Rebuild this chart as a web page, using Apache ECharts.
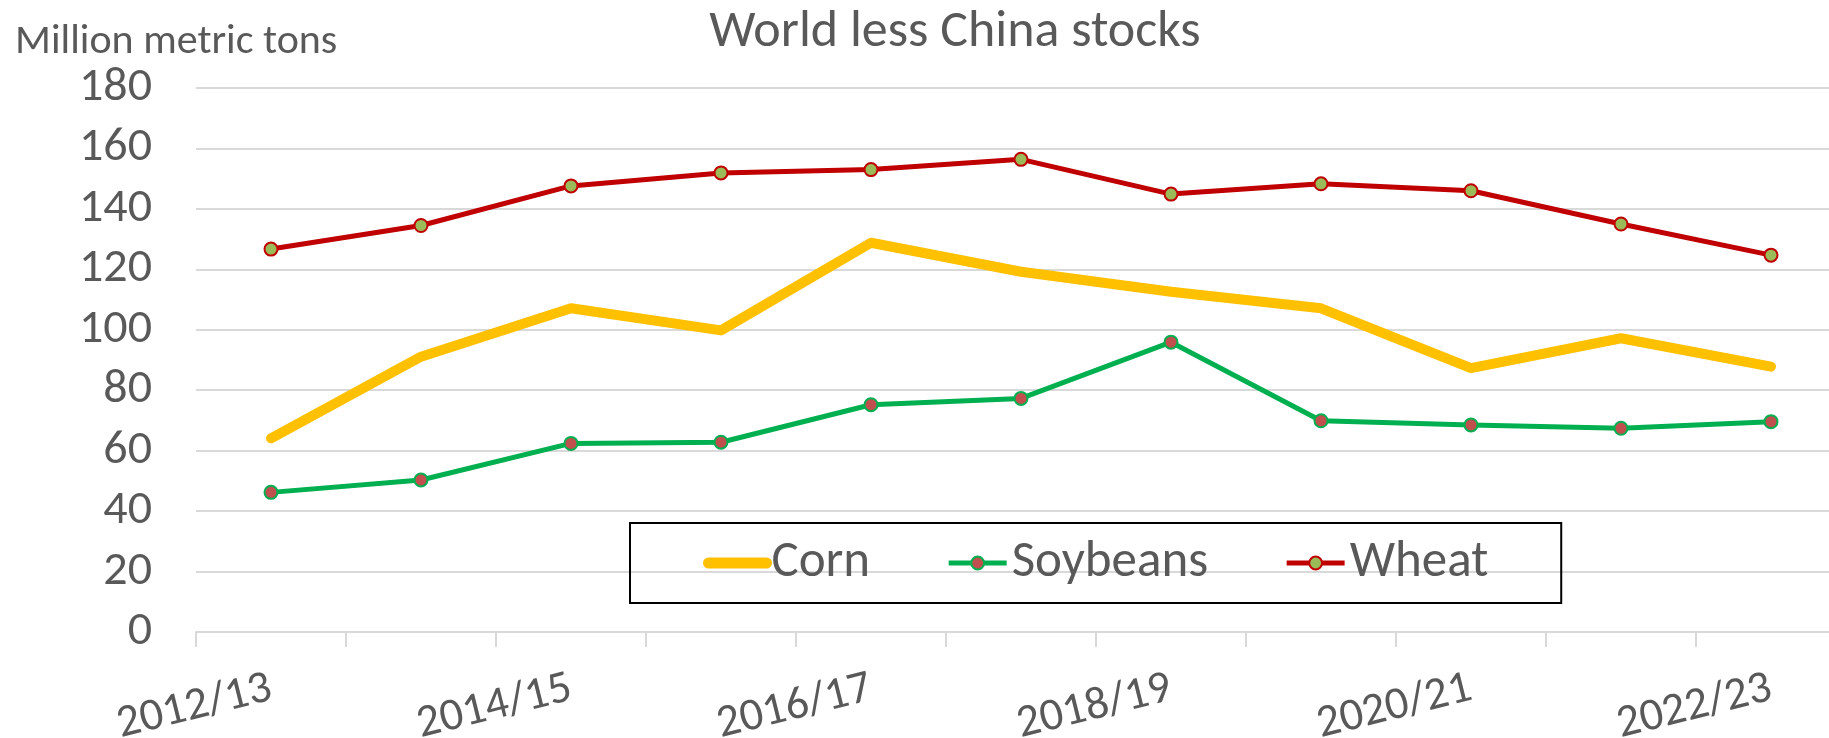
<!DOCTYPE html>
<html>
<head>
<meta charset="utf-8">
<script src="https://cdn.jsdelivr.net/npm/echarts@6/dist/echarts.min.js"></script>
<style>
  html, body { margin: 0; padding: 0; background: #fff; }
  #chart { width: 1829px; height: 738px; }
</style>
</head>
<body>
<div id="chart"></div>
<script>
// Marketing years on the category axis
const years = ['2012/13', '2013/14', '2014/15', '2015/16', '2016/17', '2017/18',
               '2018/19', '2019/20', '2020/21', '2021/22', '2022/23'];

// Ending stocks, world excluding China (million metric tons)
const corn     = [64.1, 91.1, 107.1, 99.8, 128.8, 119.2, 112.6, 107.1, 87.3, 97.2, 87.8];
const soybeans = [46.2, 50.3, 62.4, 62.8, 75.2, 77.3, 95.9, 69.9, 68.5, 67.4, 69.6];
const wheat    = [126.7, 134.5, 147.6, 151.9, 153.0, 156.4, 144.9, 148.3, 146.0, 135.0, 124.7];

const yTicks = { min: 0, max: 180, interval: 20 };

const FONT = 'Carlito, Lato, sans-serif';
const TEXT = '#595959';

const chart = echarts.init(document.getElementById('chart'), null, { renderer: 'canvas' });

chart.setOption({
  backgroundColor: '#ffffff',
  animation: false,
  textStyle: { fontFamily: FONT, color: TEXT },
  title: [
    {
      text: 'World less China stocks',
      left: 950, top: 2, textAlign: 'center',
      textStyle: { fontFamily: FONT, fontSize: 52, fontWeight: 'normal', color: TEXT }
    },
    {
      text: 'Million metric tons',
      left: 10, top: 16,
      textStyle: { fontFamily: FONT, fontSize: 42, fontWeight: 'normal', color: TEXT }
    }
  ],
  // plot area runs past the right edge; the last category boundary is cut off
  grid: { left: 196, top: 88, width: 1650, height: 544, containLabel: false, outerBoundsMode: 'none' },
  legend: {
    left: 630, top: 523,
    padding: [14, 73],
    borderColor: '#000000', borderWidth: 2,
    itemWidth: 58, itemHeight: 16, itemGap: 76,
    textStyle: { fontFamily: FONT, fontSize: 51, lineHeight: 52, color: TEXT },
    data: [
      { name: 'Corn', lineStyle: { width: 11, cap: 'round' }, itemStyle: { opacity: 0 } },
      { name: 'Soybeans', lineStyle: { width: 5 } },
      { name: 'Wheat', lineStyle: { width: 5 } }
    ]
  },
  xAxis: {
    type: 'category',
    data: years,
    boundaryGap: true,
    axisLine: { lineStyle: { color: '#D9D9D9', width: 2 } },
    axisTick: { show: true, interval: 0, length: 15, lineStyle: { color: '#D9D9D9', width: 2 } },
    axisLabel: {
      interval: 1, rotate: 14, margin: 56,
      fontFamily: FONT, fontSize: 46, color: TEXT
    },
    splitLine: { show: false }
  },
  yAxis: {
    type: 'value',
    min: yTicks.min, max: yTicks.max, interval: yTicks.interval,
    axisLine: { show: false },
    axisTick: { show: false },
    axisLabel: { margin: 44, fontFamily: FONT, fontSize: 48, color: TEXT },
    splitLine: { lineStyle: { color: '#D9D9D9', width: 2 } }
  },
  series: [
    {
      name: 'Corn', type: 'line', data: corn,
      showSymbol: false, symbol: 'none',
      lineStyle: { color: '#FFC000', width: 10, cap: 'round', join: 'round' },
      itemStyle: { color: '#FFC000' },
      z: 2
    },
    {
      name: 'Soybeans', type: 'line', data: soybeans,
      symbol: 'circle', symbolSize: 13,
      lineStyle: { color: '#00B050', width: 5, join: 'round' },
      itemStyle: { color: '#C0504D', borderColor: '#00B050', borderWidth: 2 },
      z: 3
    },
    {
      name: 'Wheat', type: 'line', data: wheat,
      symbol: 'circle', symbolSize: 13,
      lineStyle: { color: '#C00000', width: 5, join: 'round' },
      itemStyle: { color: '#9BBB59', borderColor: '#C00000', borderWidth: 2 },
      z: 4
    }
  ]
});
</script>
</body>
</html>
